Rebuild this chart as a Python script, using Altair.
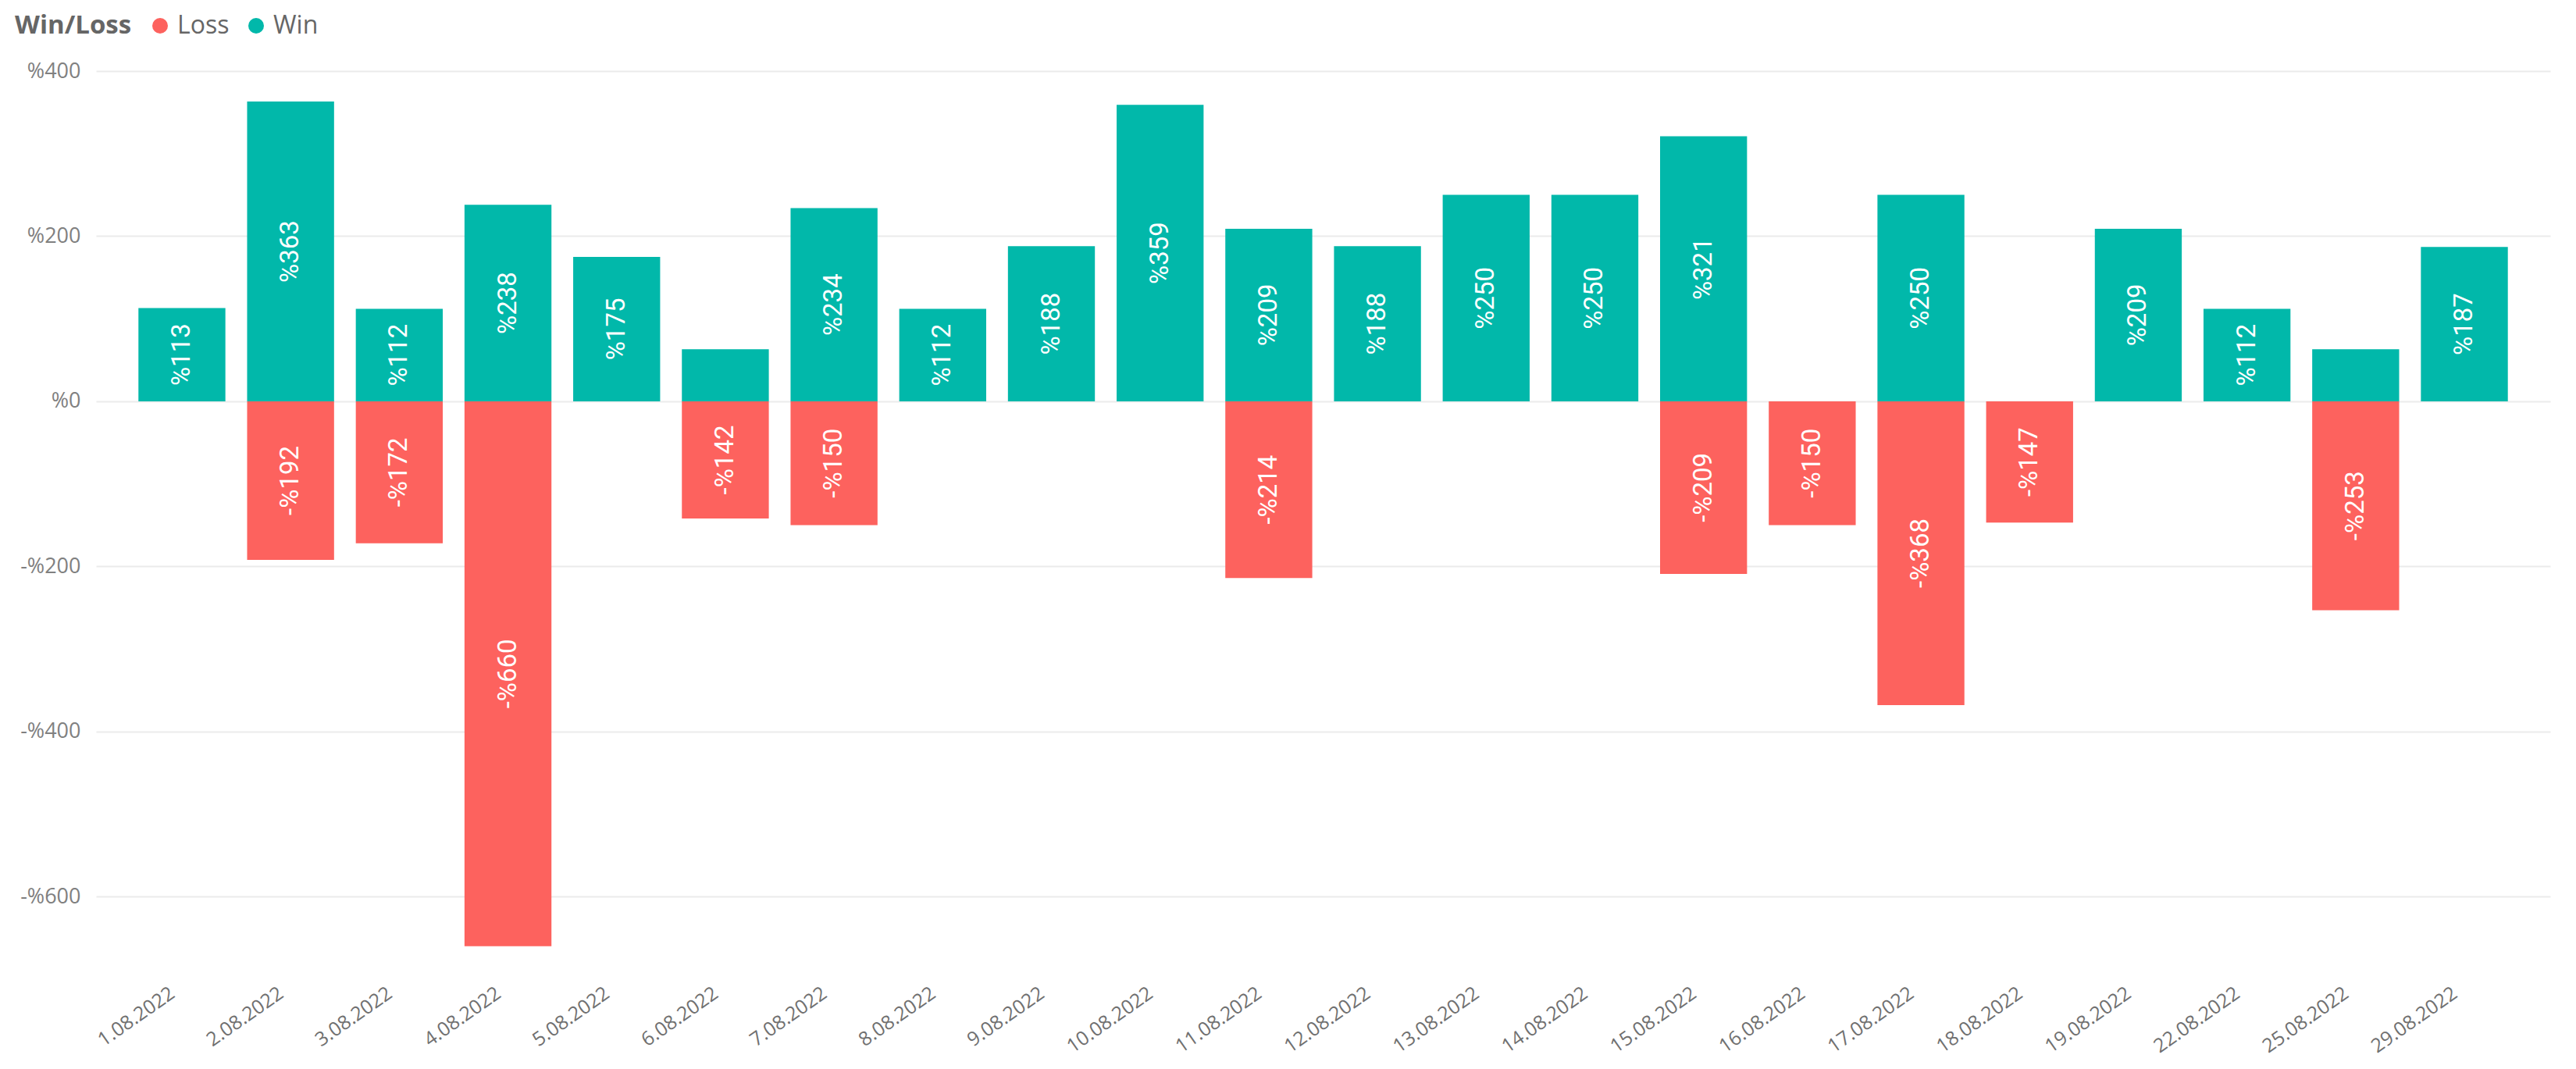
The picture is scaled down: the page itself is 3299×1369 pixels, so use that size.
import altair as alt
import pandas as pd

dates = ["1.08.2022", "2.08.2022", "3.08.2022", "4.08.2022", "5.08.2022", "6.08.2022",
         "7.08.2022", "8.08.2022", "9.08.2022", "10.08.2022", "11.08.2022", "12.08.2022",
         "13.08.2022", "14.08.2022", "15.08.2022", "16.08.2022", "17.08.2022", "18.08.2022",
         "19.08.2022", "22.08.2022", "25.08.2022", "29.08.2022"]
win = [113, 363, 112, 238, 175, 63, 234, 112, 188, 359, 209, 188,
       250, 250, 321, None, 250, None, 209, 112, 63, 187]
loss = [None, -192, -172, -660, None, -142, -150, None, None, None, -214, None,
        None, None, -209, -150, -368, -147, None, None, -253, None]
categories = ["Loss", "Win"]
colors = ["#FD625E", "#01B8AA"]

rows = []
for d, w, l in zip(dates, win, loss):
    if w is not None:
        rows.append({"date": d, "WinLoss": "Win", "value": w})
    if l is not None:
        rows.append({"date": d, "WinLoss": "Loss", "value": l})
df = pd.DataFrame(rows)

x = alt.X("date:N", sort=dates, title=None,
          scale=alt.Scale(paddingInner=0.2, paddingOuter=0.39),
          axis=alt.Axis(labelAngle=-35, labelAlign="right", labelBaseline="middle",
                        labelPadding=52, labelOffset=-12, ticks=False, tickSize=0, domain=False,
                        labelFont="Open Sans", labelFontSize=25, labelColor="#707070",
                        labelOverlap=False, labelBound=False, grid=False))
y = alt.Y("value:Q", title=None, stack=None,
          scale=alt.Scale(domain=[-665, 400], nice=False, zero=True),
          axis=alt.Axis(values=[-600, -400, -200, 0, 200, 400], domain=False, ticks=False,
                        labelPadding=20, labelFont="Open Sans", labelFontSize=27,
                        labelColor="#808080", gridColor="#EBEBEB", gridWidth=2,
                        labelExpr="datum.value < 0 ? '-%' + abs(datum.value) : '%' + datum.value"))

bars = alt.Chart(df).mark_bar().encode(
    x=x, y=y,
    color=alt.Color("WinLoss:N", scale=alt.Scale(domain=categories, range=colors),
                    legend=alt.Legend(title="Win/Loss", orient="none", legendX=-104, legendY=-74,
                                      direction="horizontal", titleOrient="left",
                                      titleFont="Open Sans", titleFontSize=33, titleFontWeight="bold",
                                      titleColor="#666666", titlePadding=20,
                                      labelFont="Open Sans", labelFontSize=32, labelColor="#666666",
                                      labelOffset=6, columnPadding=18,
                                      symbolType="circle", symbolSize=400, symbolStrokeWidth=0))
)

labels = alt.Chart(df).transform_filter(
    "abs(datum.value) >= 100"
).transform_calculate(
    lbl="datum.value < 0 ? '-%' + abs(datum.value) : '%' + datum.value",
    mid="datum.value / 2"
).mark_text(angle=270, color="white", font="Roboto", fontSize=33,
            align="center", baseline="middle").encode(
    x=alt.X("date:N", sort=dates),
    y=alt.Y("mid:Q"),
    text="lbl:N"
)

chart = alt.layer(bars, labels).properties(
    width=3143, height=1126,
    autosize="none",
    background="white",
    padding={"left": 115, "top": 83, "right": 25, "bottom": 144}
).configure_view(strokeWidth=0, stroke="transparent")

chart.save("out.html", embed_options={"renderer": "svg", "actions": False})
